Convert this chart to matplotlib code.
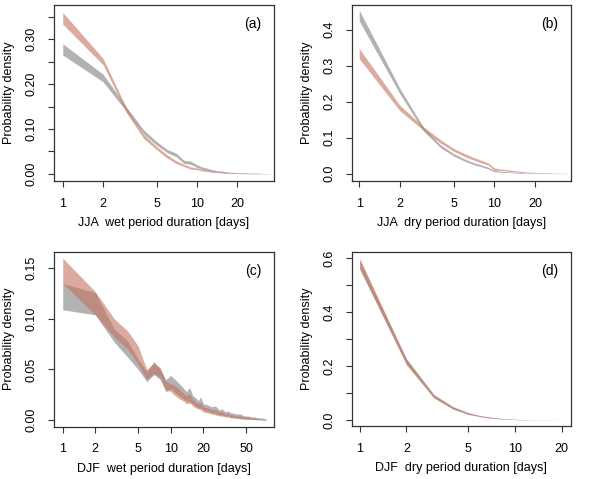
import numpy as np
import matplotlib
matplotlib.use("Agg")
import matplotlib.pyplot as plt
from matplotlib.ticker import FixedLocator, NullLocator

plt.rcParams['font.family'] = ['Liberation Sans', 'DejaVu Sans']

# ---- data (lower / upper bounds of each band) ----
# (a) JJA wet
xa = [1, 2, 3, 4, 5, 6, 7, 8, 9, 10, 11, 12, 13, 14, 15, 16, 17, 18, 19, 20, 22, 25, 28, 31, 35]
a_red_hi = [0.360, 0.257, 0.145, 0.088, 0.061, 0.042, 0.029, 0.021, 0.015, 0.013, 0.010, 0.008, 0.006,
            0.005, 0.004, 0.003, 0.003, 0.002, 0.002, 0.002, 0.001, 0.001, 0.001, 0.0005, 0.0003]
a_red_lo = [0.334, 0.243, 0.135, 0.079, 0.054, 0.035, 0.023, 0.016, 0.010, 0.009, 0.006, 0.005, 0.003,
            0.003, 0.002, 0.001, 0.001, 0.001, 0.0005, 0.0005, 0.0, 0.0, 0.0, 0.0, 0.0]
a_gry_hi = [0.290, 0.222, 0.148, 0.098, 0.072, 0.054, 0.046, 0.030, 0.028, 0.020, 0.015, 0.012, 0.009,
            0.007, 0.006, 0.005, 0.004, 0.003, 0.003, 0.002, 0.002, 0.001, 0.001, 0.0005, 0.0003]
a_gry_lo = [0.265, 0.205, 0.138, 0.089, 0.064, 0.047, 0.038, 0.023, 0.021, 0.014, 0.010, 0.007, 0.005,
            0.004, 0.003, 0.002, 0.002, 0.001, 0.001, 0.001, 0.0005, 0.0, 0.0, 0.0, 0.0]

# (b) JJA dry
xb = xa
b_gry_hi = [0.455, 0.237, 0.128, 0.080, 0.056, 0.041, 0.031, 0.024, 0.018, 0.009, 0.007, 0.006, 0.005,
            0.004, 0.003, 0.003, 0.002, 0.002, 0.001, 0.001, 0.001, 0.0005, 0.0003, 0.0002, 0.0001]
b_gry_lo = [0.425, 0.222, 0.118, 0.072, 0.049, 0.035, 0.025, 0.019, 0.013, 0.005, 0.004, 0.003, 0.003,
            0.002, 0.001, 0.001, 0.001, 0.0005, 0.0003, 0.0002, 0.0, 0.0, 0.0, 0.0, 0.0]
b_red_hi = [0.348, 0.190, 0.130, 0.094, 0.070, 0.056, 0.045, 0.037, 0.030, 0.016, 0.013, 0.012, 0.010,
            0.008, 0.007, 0.006, 0.005, 0.004, 0.004, 0.003, 0.002, 0.002, 0.001, 0.001, 0.0005]
b_red_lo = [0.320, 0.175, 0.120, 0.085, 0.062, 0.048, 0.038, 0.030, 0.024, 0.009, 0.009, 0.008, 0.006,
            0.005, 0.004, 0.003, 0.003, 0.002, 0.002, 0.001, 0.001, 0.0005, 0.0003, 0.0002, 0.0]

# (c) DJF wet
xc = [1, 2, 3, 4, 5, 6, 7, 8, 9, 10, 11, 12, 13, 14, 15, 16, 17, 18, 19, 20,
      22, 24, 26, 28, 30, 32, 34, 36, 38, 40, 44, 48, 52, 56, 60, 65, 70, 76]
c_gry_hi = [0.135, 0.126, 0.090, 0.078, 0.060, 0.048, 0.058, 0.050, 0.040, 0.044, 0.040, 0.036, 0.032,
            0.028, 0.032, 0.024, 0.022, 0.019, 0.023, 0.016, 0.015, 0.013, 0.014, 0.010, 0.011, 0.008,
            0.009, 0.007, 0.007, 0.006, 0.006, 0.004, 0.004, 0.003, 0.003, 0.002, 0.002, 0.001]
c_gry_lo = [0.109, 0.104, 0.077, 0.062, 0.050, 0.038, 0.045, 0.040, 0.028, 0.031, 0.027, 0.024, 0.021,
            0.019, 0.018, 0.016, 0.014, 0.012, 0.012, 0.010, 0.009, 0.007, 0.007, 0.005, 0.005, 0.004,
            0.004, 0.003, 0.003, 0.002, 0.002, 0.001, 0.001, 0.001, 0.0005, 0.0003, 0.0002, 0.0]
c_red_hi = [0.160, 0.127, 0.100, 0.088, 0.073, 0.050, 0.056, 0.052, 0.038, 0.036, 0.034, 0.030, 0.027,
            0.024, 0.026, 0.020, 0.018, 0.016, 0.017, 0.013, 0.012, 0.010, 0.010, 0.008, 0.008, 0.006,
            0.006, 0.005, 0.005, 0.004, 0.004, 0.003, 0.003, 0.002, 0.002, 0.0015, 0.001, 0.001]
c_red_lo = [0.135, 0.104, 0.082, 0.070, 0.055, 0.040, 0.046, 0.042, 0.030, 0.028, 0.024, 0.021, 0.019,
            0.016, 0.017, 0.014, 0.012, 0.011, 0.010, 0.008, 0.007, 0.006, 0.005, 0.004, 0.004, 0.003,
            0.003, 0.002, 0.002, 0.002, 0.001, 0.001, 0.0008, 0.0005, 0.0004, 0.0003, 0.0002, 0.0]

# (d) DJF dry
xd = [1, 2, 3, 4, 5, 6, 7, 8, 9, 10, 11, 12, 13, 14, 15, 16, 17, 18, 19, 20]
d_gry_hi = [0.592, 0.228, 0.096, 0.050, 0.028, 0.017, 0.011, 0.007, 0.005, 0.003, 0.002, 0.0015, 0.001,
            0.0008, 0.0005, 0.0004, 0.0003, 0.0002, 0.0001, 0.0001]
d_gry_lo = [0.558, 0.208, 0.084, 0.042, 0.022, 0.013, 0.008, 0.005, 0.003, 0.002, 0.001, 0.0007, 0.0005,
            0.0003, 0.0002, 0.0001, 0.0, 0.0, 0.0, 0.0]
d_red_hi = [0.600, 0.225, 0.092, 0.047, 0.026, 0.015, 0.010, 0.006, 0.004, 0.003, 0.002, 0.001, 0.0008,
            0.0006, 0.0004, 0.0003, 0.0002, 0.0001, 0.0001, 0.0001]
d_red_lo = [0.565, 0.205, 0.082, 0.040, 0.021, 0.012, 0.007, 0.004, 0.003, 0.002, 0.001, 0.0006, 0.0004,
            0.0002, 0.0001, 0.0, 0.0, 0.0, 0.0, 0.0]

panels = [
    dict(x=xa, g=(a_gry_lo, a_gry_hi), r=(a_red_lo, a_red_hi), tag="(a)",
         xlab="JJA  wet period duration [days]", xt=[1, 2, 5, 10, 20], xlim=(0.86, 37.6),
         yt=[0, 0.05, 0.10, 0.15, 0.20, 0.25, 0.30, 0.35],
         yl=["0.00", "", "0.10", "", "0.20", "", "0.30", ""], ylim=(-0.0163, 0.3766),
         pos=[54, 5, 274, 181]),
    dict(x=xb, g=(b_gry_lo, b_gry_hi), r=(b_red_lo, b_red_hi), tag="(b)",
         xlab="JJA  dry period duration [days]", xt=[1, 2, 5, 10, 20], xlim=(0.88, 36.8),
         yt=[0, 0.1, 0.2, 0.3, 0.4], yl=["0.0", "0.1", "0.2", "0.3", "0.4"], ylim=(-0.0206, 0.469),
         pos=[351.7, 5, 570.7, 181]),
    dict(x=xc, g=(c_gry_lo, c_gry_hi), r=(c_red_lo, c_red_hi), tag="(c)",
         xlab="DJF  wet period duration [days]", xt=[1, 2, 5, 10, 20, 50], xlim=(0.83, 90.5),
         yt=[0, 0.05, 0.10, 0.15], yl=["0.00", "0.05", "0.10", "0.15"], ylim=(-0.0066, 0.1664),
         pos=[54, 251.7, 274, 426.7]),
    dict(x=xd, g=(d_gry_lo, d_gry_hi), r=(d_red_lo, d_red_hi), tag="(d)",
         xlab="DJF  dry period duration [days]", xt=[1, 2, 5, 10, 20], xlim=(0.888, 22.9),
         yt=[0, 0.1, 0.2, 0.3, 0.4, 0.5, 0.6], yl=["0.0", "", "0.2", "", "0.4", "", "0.6"],
         ylim=(-0.022, 0.6245), pos=[351.7, 251.7, 570.7, 426]),
]

W, H = 608, 479
fig = plt.figure(figsize=(W / 100, H / 100), dpi=100)

gray_c = (0.50, 0.50, 0.50)
red_c = (0.76, 0.45, 0.37)
fs = 9

for p in panels:
    x0, y0, x1, y1 = p["pos"]
    ax = fig.add_axes([x0 / W, 1 - y1 / H, (x1 - x0) / W, (y1 - y0) / H])
    ax.fill_between(p["x"], p["g"][0], p["g"][1], color=gray_c, alpha=0.6, lw=0)
    ax.fill_between(p["x"], p["r"][0], p["r"][1], color=red_c, alpha=0.6, lw=0)
    ax.set_xscale("log")
    ax.set_xlim(*p["xlim"])
    ax.set_ylim(*p["ylim"])
    ax.xaxis.set_major_locator(FixedLocator(p["xt"]))
    ax.xaxis.set_minor_locator(NullLocator())
    ax.set_xticklabels([str(v) for v in p["xt"]])
    ax.set_yticks(p["yt"])
    ax.set_yticklabels(p["yl"], rotation=90, va="center")
    ax.tick_params(axis="both", direction="out", length=4, width=0.8, labelsize=fs, color="#333333")
    ax.tick_params(axis="x", pad=8)
    ax.tick_params(axis="y", pad=8)
    for s in ax.spines.values():
        s.set_linewidth(0.9)
        s.set_color("#333333")
    ah = y1 - y0
    aw = x1 - x0
    ax.set_xlabel(p["xlab"], fontsize=fs)
    ax.xaxis.set_label_coords(0.5, -42 / ah)
    ax.xaxis.label.set_va("center")
    ax.set_ylabel("Probability density", fontsize=fs)
    ax.yaxis.set_label_coords(-45 / aw, 0.5)
    ax.yaxis.label.set_va("center")
    ax.text(0.905, 0.89, p["tag"], transform=ax.transAxes, fontsize=fs + 1, ha="center", va="center")

fig.savefig("out.png", dpi=100)
